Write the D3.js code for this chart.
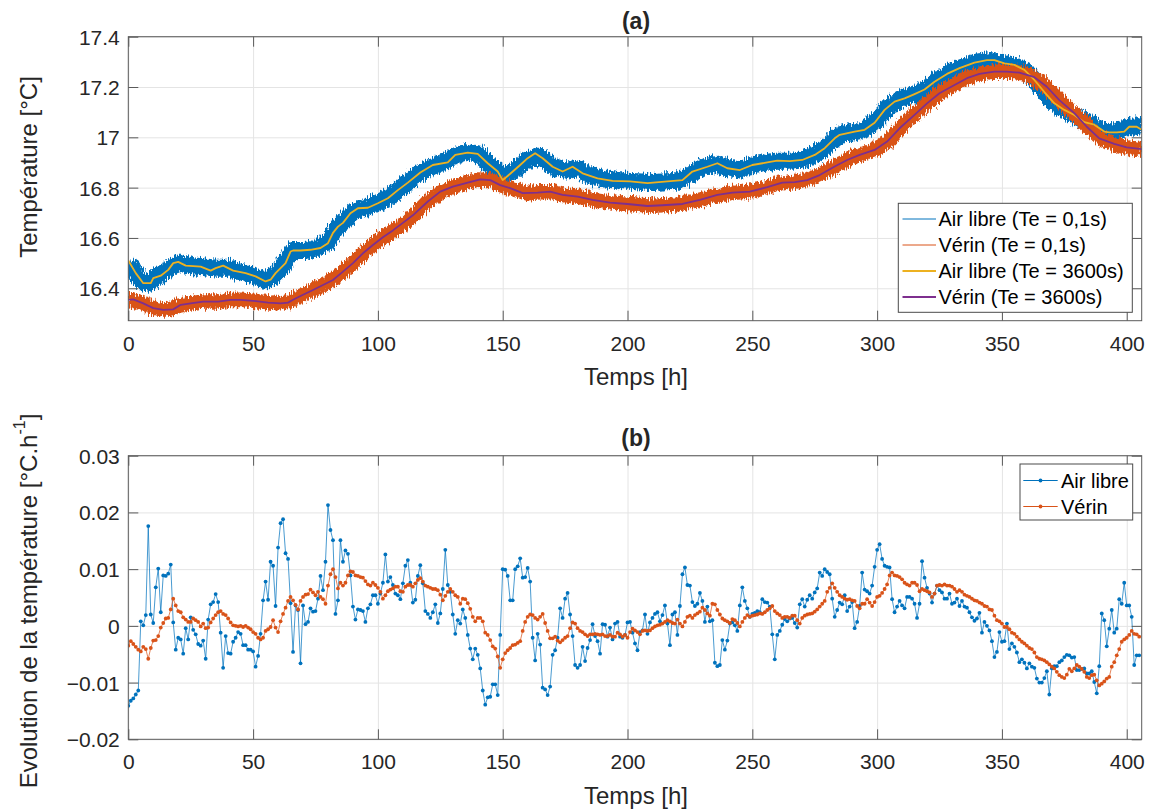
<!DOCTYPE html>
<html><head><meta charset="utf-8">
<script src="https://cdn.jsdelivr.net/npm/d3@7"></script>
<style>
body{margin:0;background:#fff;}
svg{display:block;font-family:"Liberation Sans",Arial,Helvetica,sans-serif;}
</style></head><body>
<svg id="chart" width="1153" height="811"></svg>
<script>
// ---------- DATA ----------
const xTicks = [0,50,100,150,200,250,300,350,400];
const yTicksA = [16.4,16.6,16.8,17,17.2,17.4];
const yTicksB = [-0.02,-0.01,0,0.01,0.02,0.03];
const titleA = "(a)", titleB = "(b)";
const xLabel = "Temps [h]";
const yLabelA = "Température [°C]";
const yLabelB = "Evolution de la température [°C.h";
const legendA = ["Air libre (Te = 0,1s)","Vérin (Te = 0,1s)","Air libre (Te = 3600s)","Vérin (Te = 3600s)"];
const legendB = ["Air libre","Vérin"];

// (a) raw signal, Te = 0.1 s (band centre)
const airLibreFastH = [0,2,5,8,12,16,20,25,30,35,40,45,50,55,58,62,66,70,75,80,83,86,90,95,100,105,110,115,120,125,130,135,140,145,150,155,160,165,170,175,180,185,190,200,210,220,225,230,235,240,245,250,255,260,265,270,275,280,285,290,295,300,305,310,315,320,325,330,335,340,345,350,355,360,365,370,375,380,385,390,395,400,403,406];
const airLibreFastT = [16.50,16.47,16.43,16.42,16.45,16.475,16.50,16.49,16.485,16.48,16.48,16.465,16.45,16.43,16.445,16.49,16.55,16.55,16.555,16.585,16.635,16.66,16.705,16.72,16.74,16.765,16.805,16.845,16.875,16.895,16.92,16.94,16.935,16.89,16.845,16.87,16.915,16.925,16.885,16.87,16.875,16.85,16.835,16.825,16.82,16.825,16.85,16.88,16.895,16.88,16.87,16.89,16.90,16.905,16.905,16.91,16.93,16.965,17.01,17.02,17.03,17.07,17.125,17.155,17.172,17.195,17.235,17.262,17.282,17.30,17.305,17.295,17.285,17.26,17.205,17.145,17.11,17.08,17.055,17.025,17.02,17.04,17.045,17.04];
const verinFastH = [0,5,10,15,20,25,30,35,40,45,50,55,60,65,70,75,80,85,90,95,100,105,110,115,120,125,130,135,140,145,150,155,160,165,170,175,180,185,190,200,210,220,230,240,250,255,260,265,270,275,280,285,290,295,300,305,310,315,320,325,330,335,340,345,350,355,360,365,370,375,380,385,390,395,400,406];
const verinFastT = [16.355,16.345,16.322,16.315,16.33,16.34,16.347,16.347,16.353,16.354,16.35,16.345,16.34,16.35,16.374,16.398,16.423,16.458,16.50,16.547,16.588,16.62,16.655,16.695,16.745,16.78,16.803,16.818,16.832,16.83,16.807,16.79,16.778,16.782,16.782,16.77,16.764,16.753,16.745,16.735,16.728,16.733,16.754,16.777,16.786,16.80,16.815,16.82,16.828,16.842,16.866,16.895,16.918,16.937,16.955,16.99,17.045,17.09,17.135,17.175,17.205,17.232,17.25,17.26,17.262,17.26,17.25,17.222,17.18,17.128,17.085,17.035,16.992,16.972,16.96,16.952];

// (a) hourly signal, Te = 3600 s
const airLibreSlowH = [0,3,6,9,10,13,16,18,20,23,29,33,35,38,42,47,51,55,57,59,63,65,66,69,73,77,80,82,84,86,89,92,96,100,104,108,112,117,122,128,131,136,140,144,148,150,153,157,160,163,166,170,174,178,182,188,194,201,208,216,222,226,232,236,240,245,250,256,260,265,270,275,279,283,285,291,295,299,303,307,311,315,319,323,328,333,339,344,347,351,355,359,363,367,371,375,379,383,387,391,393,396,399,401,404,406];
const airLibreSlowT = [16.51,16.46,16.42,16.42,16.44,16.45,16.473,16.50,16.505,16.49,16.486,16.47,16.48,16.49,16.47,16.46,16.447,16.427,16.434,16.46,16.50,16.546,16.55,16.55,16.553,16.56,16.579,16.62,16.645,16.66,16.698,16.718,16.72,16.738,16.758,16.79,16.82,16.86,16.89,16.90,16.93,16.939,16.934,16.897,16.864,16.83,16.855,16.89,16.917,16.937,16.917,16.883,16.864,16.883,16.857,16.837,16.827,16.825,16.818,16.825,16.83,16.864,16.883,16.897,16.877,16.87,16.89,16.90,16.907,16.905,16.91,16.93,16.957,16.996,17.01,17.023,17.03,17.058,17.109,17.142,17.155,17.172,17.19,17.221,17.252,17.275,17.297,17.307,17.307,17.294,17.288,17.268,17.228,17.18,17.135,17.109,17.089,17.06,17.05,17.023,17.02,17.02,17.023,17.042,17.042,17.03];
const verinSlowH = [0,2,6,10,14,18,21,25,30,36,41,45,50,56,61,64,66,70,74,78,82,86,90,94,98,102,106,110,114,120,125,130,136,141,145,149,153,158,164,169,174,180,186,193,200,208,214,222,229,236,242,249,256,262,267,272,277,283,288,293,299,304,309,315,320,325,331,336,341,347,352,357,363,368,373,379,384,389,395,400,406];
const verinSlowT = [16.354,16.356,16.34,16.321,16.314,16.316,16.334,16.34,16.347,16.347,16.354,16.354,16.35,16.343,16.34,16.343,16.354,16.374,16.393,16.413,16.433,16.466,16.50,16.539,16.572,16.603,16.63,16.66,16.69,16.745,16.784,16.804,16.82,16.833,16.83,16.81,16.798,16.778,16.78,16.784,16.771,16.764,16.751,16.74,16.735,16.727,16.73,16.735,16.751,16.771,16.78,16.784,16.802,16.82,16.822,16.83,16.85,16.884,16.91,16.93,16.95,16.983,17.036,17.089,17.135,17.175,17.208,17.235,17.252,17.261,17.261,17.257,17.239,17.201,17.148,17.096,17.042,16.996,16.974,16.96,16.953];

// (b) hourly rate of change [°C/h], one value per hour from 0 h
const airLibreRate = [
-0.0141,-0.0132,-0.0128,-0.0121,-0.0114,0.0008,0.0001,0.0019,0.0176,0.0020,
0.0005,0.0068,0.0101,0.0024,0.0089,0.0088,0.0092,0.0108,0.0006,-0.0042,
-0.0021,-0.0024,-0.0049,-0.0004,-0.0024,0.0015,-0.0007,-0.0015,-0.0032,-0.0035,
-0.0026,-0.0058,0.0011,0.0038,0.0042,0.0056,0.0042,-0.0012,-0.0074,-0.0018,
-0.0048,-0.0049,-0.0028,-0.0021,-0.0011,-0.0014,-0.0034,-0.0034,-0.0042,-0.0042,
-0.0045,-0.0072,-0.0053,-0.0014,0.0045,0.0078,0.0046,0.0113,0.0106,0.0035,
0.0138,0.0181,0.0188,0.0128,0.0118,0.0040,-0.0046,0.0036,0.0028,-0.0066,
0.0036,0.0003,0.0007,0.0031,0.0025,0.0026,0.0048,0.0088,0.0063,0.0113,
0.0213,0.0169,0.0151,0.0021,0.0045,0.0151,0.0113,0.0133,0.0127,0.0089,
0.0034,0.0011,0.0029,0.0028,0.0026,0.0007,0.0031,0.0038,0.0054,0.0054,
0.0039,0.0057,0.0076,0.0126,0.0078,0.0086,0.0072,0.0057,0.0054,0.0047,
0.0075,0.0106,0.0116,0.0076,0.0041,0.0046,0.0088,0.0107,0.0075,0.0026,
0.0021,0.0014,0.0024,0.0038,0.0005,0.0022,0.0065,0.0134,0.0072,0.0060,
0.0020,-0.0014,0.0010,0.0004,0.0029,0.0014,-0.0016,-0.0040,-0.0059,-0.0040,
-0.0051,-0.0075,-0.0114,-0.0139,-0.0126,-0.0125,-0.0103,-0.0103,-0.0122,-0.0016,
0.0100,0.0099,0.0088,0.0045,0.0045,0.0100,0.0105,0.0119,0.0085,0.0086,
0.0102,0.0078,-0.0021,-0.0061,-0.0014,-0.0033,-0.0109,-0.0112,-0.0122,-0.0107,
-0.0051,-0.0043,-0.0021,0.0031,0.0014,0.0048,0.0058,0.0020,-0.0018,-0.0069,
-0.0074,-0.0069,-0.0037,-0.0062,-0.0039,-0.0025,0.0003,-0.0018,-0.0027,-0.0049,
0.0003,0.0002,-0.0019,-0.0003,-0.0024,0.0004,0.0007,-0.0019,-0.0021,-0.0016,
0.0006,0.0007,-0.0012,-0.0031,-0.0043,-0.0011,-0.0008,0.0020,-0.0014,0.0006,
0.0014,0.0021,0.0024,0.0008,0.0019,0.0036,0.0004,-0.0034,0.0020,0.0024,
-0.0016,0.0035,0.0091,0.0103,0.0072,0.0071,0.0042,0.0035,0.0039,0.0058,
0.0044,0.0007,0.0034,0.0008,0.0010,-0.0065,-0.0071,-0.0069,-0.0025,-0.0042,
-0.0026,0.0004,0.0006,0.0001,-0.0009,0.0036,0.0068,0.0044,0.0031,0.0016,
0.0021,0.0023,0.0026,0.0024,0.0047,0.0042,0.0041,0.0034,-0.0015,-0.0059,
-0.0016,-0.0009,0.0002,0.0012,0.0008,0.0013,0.0014,0.0005,-0.0003,0.0038,
0.0047,0.0034,0.0046,0.0054,0.0048,0.0059,0.0066,0.0094,0.0088,0.0100,
0.0095,0.0091,0.0048,0.0016,0.0028,0.0041,0.0038,0.0054,0.0026,0.0034,
0.0042,-0.0004,0.0007,0.0035,0.0094,0.0064,0.0061,0.0057,0.0071,0.0104,
0.0134,0.0144,0.0118,0.0106,0.0104,0.0103,0.0047,0.0024,0.0034,0.0044,
0.0036,0.0031,0.0051,0.0051,0.0048,0.0039,0.0014,0.0039,0.0114,0.0085,
0.0067,0.0057,0.0041,0.0057,0.0071,0.0063,0.0059,0.0048,0.0048,0.0057,
0.0039,0.0041,0.0048,0.0035,0.0044,0.0034,0.0032,0.0024,0.0015,0.0009,
0.0013,0.0023,-0.0012,0.0007,0.0000,-0.0008,-0.0027,-0.0055,-0.0046,-0.0011,
-0.0028,-0.0027,0.0004,-0.0041,-0.0031,-0.0037,-0.0047,-0.0064,-0.0059,-0.0065,
-0.0075,-0.0066,-0.0072,-0.0074,-0.0093,-0.0100,-0.0100,-0.0092,-0.0080,-0.0121,
-0.0075,-0.0071,-0.0071,-0.0064,-0.0061,-0.0055,-0.0051,-0.0052,-0.0056,-0.0055,
-0.0078,-0.0078,-0.0076,-0.0075,-0.0084,-0.0084,-0.0080,-0.0099,-0.0119,-0.0071,
0.0022,0.0010,-0.0036,-0.0005,0.0028,-0.0012,-0.0005,0.0047,0.0039,0.0076,
0.0036,0.0036,0.0016,-0.0069,-0.0052,-0.0052];
const verinRate = [
-0.0035,-0.0027,-0.0032,-0.0037,-0.0042,-0.0045,-0.0037,-0.0041,-0.0058,-0.0039,
-0.0026,-0.0025,-0.0018,-0.0003,0.0005,0.0013,0.0014,0.0029,0.0048,0.0036,
0.0026,0.0024,0.0015,0.0011,0.0007,0.0007,0.0013,0.0010,0.0007,-0.0001,
0.0004,-0.0004,-0.0003,0.0006,0.0013,0.0019,0.0024,0.0026,0.0021,0.0019,
0.0013,0.0006,0.0001,0.0000,-0.0001,0.0000,-0.0002,0.0000,-0.0003,-0.0006,
-0.0011,-0.0014,-0.0021,-0.0024,-0.0021,-0.0009,-0.0006,-0.0002,0.0010,-0.0003,
-0.0011,0.0008,0.0021,0.0032,0.0044,0.0051,0.0045,0.0037,0.0029,0.0044,
0.0051,0.0055,0.0056,0.0064,0.0059,0.0054,0.0060,0.0051,0.0047,0.0039,
0.0071,0.0091,0.0100,0.0086,0.0066,0.0076,0.0071,0.0076,0.0089,0.0096,
0.0095,0.0089,0.0088,0.0086,0.0085,0.0079,0.0073,0.0071,0.0076,0.0072,
0.0067,0.0060,0.0048,0.0054,0.0061,0.0064,0.0066,0.0069,0.0069,0.0061,
0.0060,0.0069,0.0072,0.0072,0.0069,0.0075,0.0081,0.0084,0.0078,0.0071,
0.0069,0.0067,0.0065,0.0065,0.0063,0.0055,0.0045,0.0053,0.0060,0.0065,
0.0060,0.0054,0.0051,0.0039,0.0048,0.0047,0.0040,0.0030,0.0016,0.0008,
0.0014,0.0014,0.0008,-0.0012,-0.0016,-0.0025,-0.0036,-0.0040,-0.0054,-0.0074,
-0.0059,-0.0048,-0.0043,-0.0039,-0.0034,-0.0033,-0.0030,-0.0027,-0.0009,0.0007,
0.0016,0.0020,0.0019,0.0014,0.0011,0.0016,0.0021,0.0005,-0.0009,-0.0022,
-0.0022,-0.0019,-0.0026,-0.0029,-0.0025,-0.0021,-0.0018,-0.0004,0.0006,0.0004,
-0.0004,-0.0009,-0.0011,-0.0015,-0.0018,-0.0015,-0.0015,-0.0014,-0.0015,-0.0016,
-0.0015,-0.0018,-0.0018,-0.0016,-0.0019,-0.0019,-0.0012,-0.0015,-0.0019,-0.0016,
-0.0021,-0.0011,-0.0005,-0.0008,-0.0011,-0.0015,-0.0009,-0.0008,-0.0009,-0.0008,
-0.0004,-0.0001,0.0001,0.0002,0.0004,0.0007,0.0010,0.0008,0.0005,0.0004,
0.0011,0.0004,-0.0001,0.0007,0.0016,0.0018,0.0014,0.0019,0.0022,0.0025,
0.0032,0.0028,0.0022,0.0018,0.0039,0.0038,0.0028,0.0020,0.0013,0.0010,
0.0008,0.0005,0.0012,0.0010,0.0005,-0.0001,0.0007,0.0014,0.0019,0.0016,
0.0018,0.0019,0.0020,0.0022,0.0021,0.0024,0.0028,0.0031,0.0035,0.0026,
0.0022,0.0019,0.0014,0.0016,0.0016,0.0014,0.0018,0.0018,0.0010,0.0004,
0.0014,0.0018,0.0020,0.0021,0.0022,0.0025,0.0029,0.0034,0.0039,0.0044,
0.0060,0.0067,0.0075,0.0067,0.0060,0.0054,0.0051,0.0048,0.0046,0.0047,
0.0045,0.0044,0.0035,0.0031,0.0039,0.0039,0.0047,0.0041,0.0035,0.0042,
0.0051,0.0053,0.0058,0.0065,0.0073,0.0089,0.0094,0.0089,0.0088,0.0086,
0.0082,0.0076,0.0073,0.0071,0.0076,0.0076,0.0072,0.0061,0.0065,0.0063,
0.0061,0.0059,0.0051,0.0057,0.0071,0.0072,0.0071,0.0073,0.0071,0.0071,
0.0069,0.0065,0.0060,0.0063,0.0060,0.0055,0.0053,0.0051,0.0048,0.0045,
0.0044,0.0041,0.0039,0.0035,0.0034,0.0029,0.0028,0.0018,0.0010,0.0008,
0.0004,-0.0002,-0.0002,-0.0006,-0.0012,-0.0014,-0.0019,-0.0024,-0.0028,-0.0031,
-0.0035,-0.0039,-0.0041,-0.0047,-0.0055,-0.0058,-0.0059,-0.0061,-0.0064,-0.0068,
-0.0072,-0.0075,-0.0081,-0.0087,-0.0090,-0.0092,-0.0086,-0.0076,-0.0080,-0.0075,
-0.0069,-0.0072,-0.0076,-0.0081,-0.0090,-0.0092,-0.0087,-0.0086,-0.0096,-0.0105,
-0.0102,-0.0098,-0.0093,-0.0090,-0.0072,-0.0064,-0.0052,-0.0041,-0.0028,-0.0024,
-0.0021,-0.0016,-0.0009,-0.0014,-0.0015,-0.0019];

// ---------- STYLE ----------
const C = {blue:"#0072BD", orange:"#D95319", yellow:"#EDB120", purple:"#7E2F8E",
           text:"#262626", axis:"#5a5a5a", grid:"#e4e4e4"};
const L = 128.3, R = 1141.7;
const A = {top:36.7, bottom:320.7};
const B = {top:455.7, bottom:739.3};

const svg = d3.select("#chart");
const defs = svg.append("defs");
const filt = defs.append("filter").attr("id","hair")
  .attr("x","-2%").attr("y","-30%").attr("width","104%").attr("height","160%");
filt.append("feTurbulence").attr("type","fractalNoise")
  .attr("baseFrequency","0.95 0.15").attr("numOctaves",2).attr("seed",7).attr("result","t");
filt.append("feDisplacementMap").attr("in","SourceGraphic").attr("in2","t")
  .attr("scale",10).attr("xChannelSelector","B").attr("yChannelSelector","G");
[["clipA",A],["clipB",B]].forEach(([id,p])=>{
  defs.append("clipPath").attr("id",id).append("rect")
    .attr("x",L).attr("y",p.top).attr("width",R-L).attr("height",p.bottom-p.top);
});

const x = d3.scaleLinear().domain([0,406]).range([L,R]);
const yA = d3.scaleLinear().domain([16.271,17.4]).range([A.bottom,A.top]);
const yB = d3.scaleLinear().domain([-0.02,0.03]).range([B.bottom,B.top]);

function grid(p, y, yTicks){
  const g = svg.append("g");
  g.append("g").attr("transform",`translate(0,${p.bottom})`)
    .call(d3.axisBottom(x).tickValues(xTicks).tickSize(-(p.bottom-p.top)).tickFormat(""))
    .call(s=>{s.select(".domain").remove(); s.selectAll("line").attr("stroke",C.grid);});
  g.append("g").attr("transform",`translate(${L},0)`)
    .call(d3.axisLeft(y).tickValues(yTicks).tickSize(-(R-L)).tickFormat(""))
    .call(s=>{s.select(".domain").remove(); s.selectAll("line").attr("stroke",C.grid);});
}
function frame(p, y, yTicks, fmt){
  const g = svg.append("g");
  const style = s=>{ s.select(".domain").remove(); s.selectAll("line").attr("stroke",C.axis);
                     s.selectAll("text").attr("fill",C.text).style("font-size","21px")
                      .style("font-family",'"Liberation Sans",Arial,sans-serif'); };
  g.append("g").attr("transform",`translate(0,${p.bottom})`)
    .call(d3.axisBottom(x).tickValues(xTicks).tickSize(-10).tickFormat(d3.format("d")))
    .call(style)
    .call(s=>s.selectAll("text").attr("y",22.5).attr("dy",null).attr("dominant-baseline","central"));
  g.append("g").attr("transform",`translate(0,${p.top})`)
    .call(d3.axisTop(x).tickValues(xTicks).tickSize(-10).tickFormat("")).call(style);
  g.append("g").attr("transform",`translate(${L},0)`)
    .call(d3.axisLeft(y).tickValues(yTicks).tickSize(-10).tickFormat(fmt))
    .call(style)
    .call(s=>s.selectAll("text").attr("x",-8.5).attr("dy",null).attr("dominant-baseline","central"));
  g.append("g").attr("transform",`translate(${R},0)`)
    .call(d3.axisRight(y).tickValues(yTicks).tickSize(-10).tickFormat("")).call(style);
  g.append("rect").attr("x",L).attr("y",p.top).attr("width",R-L).attr("height",p.bottom-p.top)
    .attr("fill","none").attr("stroke",C.axis).attr("stroke-width",1);
}

// ---------- PANEL (a) ----------
grid(A, yA, yTicksA);
const gA = svg.append("g").attr("clip-path","url(#clipA)");
const lineA = d3.line().x(d=>x(d[0])).y(d=>yA(d[1]));
const zip = (h,v)=>h.map((d,i)=>[d,v[i]]);
gA.append("path").datum(zip(airLibreFastH,airLibreFastT)).attr("d",lineA)
  .attr("fill","none").attr("stroke",C.blue).attr("stroke-width",17)
  .attr("stroke-linejoin","round").attr("filter","url(#hair)");
gA.append("path").datum(zip(verinFastH,verinFastT)).attr("d",lineA)
  .attr("fill","none").attr("stroke",C.orange).attr("stroke-width",14.5)
  .attr("stroke-linejoin","round").attr("filter","url(#hair)");
gA.append("path").datum(zip(airLibreSlowH,airLibreSlowT)).attr("d",lineA)
  .attr("fill","none").attr("stroke",C.yellow).attr("stroke-width",1.8).attr("stroke-linejoin","round");
gA.append("path").datum(zip(verinSlowH,verinSlowT)).attr("d",lineA)
  .attr("fill","none").attr("stroke",C.purple).attr("stroke-width",1.8).attr("stroke-linejoin","round");
frame(A, yA, yTicksA, d=>d3.format("")(+d.toFixed(1)));

// ---------- PANEL (b) ----------
grid(B, yB, yTicksB);
const gB = svg.append("g").attr("clip-path","url(#clipB)");
const lineB = d3.line().x((d,i)=>x(i)).y(d=>yB(d));
[[airLibreRate,C.blue],[verinRate,C.orange]].forEach(([data,col])=>{
  gB.append("path").datum(data).attr("d",lineB).attr("fill","none")
    .attr("stroke",col).attr("stroke-width",0.9).attr("stroke-opacity",0.8);
  gB.append("g").selectAll("circle").data(data).join("circle")
    .attr("cx",(d,i)=>x(i)).attr("cy",d=>yB(d)).attr("r",1.9).attr("fill",col);
});
frame(B, yB, yTicksB, d=>d===0?"0":d3.format(".2f")(d));

// ---------- TEXT ----------
const txt = (s,xx,yy,size,opts={})=>svg.append("text").attr("x",xx).attr("y",yy)
  .attr("text-anchor","middle").attr("dominant-baseline","central")
  .attr("fill",C.text).style("font-size",size+"px").style("font-weight",opts.bold?"bold":"normal")
  .text(s);
txt(titleA,636,21,23,{bold:true});
txt(titleB,636,438,23,{bold:true});
txt(xLabel,636,376,24);
txt(xLabel,636,795,24);
txt(yLabelA,0,0,24).attr("transform","translate(28,167) rotate(-90)");
const yb = svg.append("text").attr("transform","translate(28,601) rotate(-90)")
  .attr("text-anchor","middle").attr("dominant-baseline","central")
  .attr("fill",C.text).style("font-size","24px");
yb.append("tspan").text(yLabelB);
yb.append("tspan").attr("dy",-9).style("font-size","16px").text("-1");
yb.append("tspan").attr("dy",9).text("]");

// ---------- LEGENDS ----------
function legend(box, entries){
  const g = svg.append("g");
  g.append("rect").attr("x",box.x).attr("y",box.y).attr("width",box.w).attr("height",box.h)
    .attr("fill","#fff").attr("stroke","#4a4a4a").attr("stroke-width",1);
  entries.forEach((e,i)=>{
    const yy = box.y0 + i*box.dy;
    g.append("line").attr("x1",box.lx0).attr("x2",box.lx1).attr("y1",yy).attr("y2",yy)
      .attr("stroke",e.color).attr("stroke-width",e.w);
    if(e.dot) g.append("circle").attr("cx",(box.lx0+box.lx1)/2).attr("cy",yy).attr("r",1.9).attr("fill",e.color);
    g.append("text").attr("x",box.tx).attr("y",yy).attr("dominant-baseline","central")
      .attr("fill","#000").style("font-size","20px").text(e.label);
  });
}
legend({x:898.3,y:203.3,w:234,h:109,y0:219,dy:26,lx0:902.5,lx1:936,tx:938.5},[
  {label:legendA[0],color:C.blue,w:1},
  {label:legendA[1],color:C.orange,w:1},
  {label:legendA[2],color:C.yellow,w:2},
  {label:legendA[3],color:C.purple,w:2}]);
legend({x:1020,y:464,w:112.7,h:56,y0:480.5,dy:26,lx0:1023.3,lx1:1057.7,tx:1061},[
  {label:legendB[0],color:C.blue,w:1,dot:true},
  {label:legendB[1],color:C.orange,w:1,dot:true}]);
</script>
</body></html>
